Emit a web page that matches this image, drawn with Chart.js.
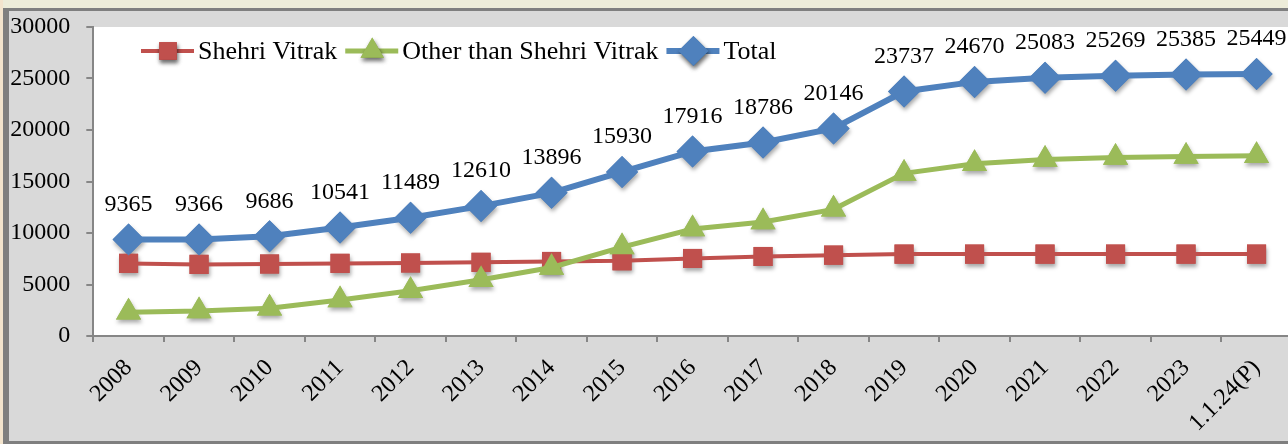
<!DOCTYPE html>
<html>
<head>
<meta charset="utf-8">
<script src="https://cdn.jsdelivr.net/npm/chart.js@4.4.0/dist/chart.umd.min.js"></script>
<style>
  html, body { margin:0; padding:0; width:1288px; height:444px; overflow:hidden; background:#edecd9; }
  #strip { position:absolute; left:0; top:0; width:3px; height:444px; background:#f3e4cd; }
  #frame { position:absolute; left:3px; top:8px; width:1300px; height:430px; background:#d9d9d9;
           border-left:6px solid #7f7f7f; border-top:3px solid #7f7f7f; border-bottom:3px solid #7f7f7f; }
  #chart { position:absolute; left:0; top:0; }
</style>
</head>
<body>
<div id="strip"></div>
<div id="frame"><canvas id="chart" width="1300" height="430"></canvas></div>
<script>
const years = ["2008","2009","2010","2011","2012","2013","2014","2015","2016","2017","2018","2019","2020","2021","2022","2023","1.1.24(P)"]
const shehri = [7050, 6950, 6990, 7050, 7090, 7150, 7240, 7300, 7530, 7720, 7850, 7950, 7950, 7950, 7950, 7950, 7950]
const other = [2315, 2416, 2696, 3491, 4399, 5460, 6656, 8630, 10386, 11066, 12296, 15787, 16720, 17133, 17319, 17435, 17499]
const total = [9365, 9366, 9686, 10541, 11489, 12610, 13896, 15930, 17916, 18786, 20146, 23737, 24670, 25083, 25269, 25385, 25449]
const yTicks = [0, 5000, 10000, 15000, 20000, 25000, 30000]

const serif = "'Liberation Serif', 'DejaVu Serif', serif"
const red = "#c0504d"
const green = "#9bbb59"
const blue = "#4f81bd"

function setShadow(ctx){
  ctx.shadowColor = "rgba(0,0,0,0.35)"
  ctx.shadowBlur = 4
  ctx.shadowOffsetX = 1
  ctx.shadowOffsetY = 3
}

// white plot area
const plotBg = {
  id: "plotBg",
  beforeDraw(chart){
    const { ctx, chartArea: a } = chart
    ctx.save()
    ctx.fillStyle = "#ffffff"
    ctx.fillRect(a.left, a.top, a.right - a.left, a.bottom - a.top)
    ctx.restore()
  }
}

// shadows under the markers only
const markerShadow = {
  id: "markerShadow",
  beforeDatasetsDraw(chart){
    const ctx = chart.ctx
    ctx.save()
    setShadow(ctx)
    chart.data.datasets.forEach((ds, i) => {
      chart.getDatasetMeta(i).data.forEach(pt => pt.draw(ctx, chart.chartArea))
    })
    ctx.restore()
  }
}

// value labels over the Total line
const totalLabels = {
  id: "totalLabels",
  afterDatasetsDraw(chart){
    const ctx = chart.ctx
    const meta = chart.getDatasetMeta(2)
    ctx.save()
    ctx.font = "24px " + serif
    ctx.fillStyle = "#000"
    ctx.textAlign = "center"
    ctx.textBaseline = "middle"
    meta.data.forEach((pt, i) => {
      ctx.fillText(String(total[i]), pt.x, pt.y - 35)
    })
    ctx.restore()
  }
}

// legend inside the plot: line + marker + text
const lineLegend = {
  id: "lineLegend",
  afterDraw(chart){
    const ctx = chart.ctx
    let x = 132
    const y = 40
    ctx.save()
    ctx.font = "26px " + serif
    ctx.textBaseline = "middle"
    chart.data.datasets.forEach(ds => {
      ctx.strokeStyle = ds.borderColor
      ctx.lineWidth = ds.borderWidth
      ctx.beginPath()
      ctx.moveTo(x, y)
      ctx.lineTo(x + 53, y)
      ctx.stroke()
      ctx.save()
      setShadow(ctx)
      ctx.fillStyle = ds.pointBackgroundColor
      Chart.helpers.drawPoint(ctx, { pointStyle: ds.pointStyle, radius: ds.pointRadius - 1, rotation: 0, borderWidth: 0 }, x + 27, y)
      ctx.fill()
      ctx.restore()
      ctx.fillStyle = "#000"
      ctx.fillText(ds.label, x + 57, y + 1)
      x += 57 + ctx.measureText(ds.label).width + 8
    })
    ctx.restore()
  }
}

new Chart(document.getElementById("chart"), {
  type: "line",
  data: {
    labels: years,
    datasets: [
      { label: "Shehri Vitrak", data: shehri, borderColor: red, borderWidth: 4,
        pointStyle: "rect", pointRadius: 13.5, pointBackgroundColor: red, pointBorderWidth: 0, order: 3 },
      { label: "Other than Shehri Vitrak", data: other, borderColor: green, borderWidth: 5,
        pointStyle: "triangle", pointRadius: 14.5, pointBackgroundColor: green, pointBorderWidth: 0, order: 2 },
      { label: "Total", data: total, borderColor: blue, borderWidth: 6,
        pointStyle: "rectRot", pointRadius: 16, pointBackgroundColor: blue, pointBorderWidth: 0, order: 1 }
    ]
  },
  options: {
    responsive: false,
    animation: false,
    layout: { padding: { top: 12, left: 0, right: 17.2, bottom: 0 } },
    elements: { line: { tension: 0 } },
    plugins: { legend: { display: false }, tooltip: { enabled: false } },
    scales: {
      x: {
        offset: true,
        grid: { offset: true, drawOnChartArea: false, tickLength: 6, color: "#868686", lineWidth: 2 },
        border: { color: "#868686", width: 2 },
        ticks: { font: { family: serif, size: 24 }, color: "#000", minRotation: 45, maxRotation: 45, autoSkip: false, padding: 12 },
        afterFit: s => { s.height = 105; s.paddingLeft = 0; s.paddingRight = 0 }
      },
      y: {
        min: 0, max: 30000,
        afterBuildTicks: s => { s.ticks = yTicks.map(v => ({ value: v })) },
        grid: { drawOnChartArea: false, tickLength: 7, color: "#868686", lineWidth: 2 },
        border: { color: "#868686", width: 2 },
        ticks: { font: { family: serif, size: 24 }, color: "#000", padding: 16, callback: v => String(v) },
        afterFit: s => { s.width = 84.3; s.paddingTop = 0; s.paddingBottom = 0 }
      }
    }
  },
  plugins: [plotBg, markerShadow, totalLabels, lineLegend]
})
</script>
</body>
</html>
